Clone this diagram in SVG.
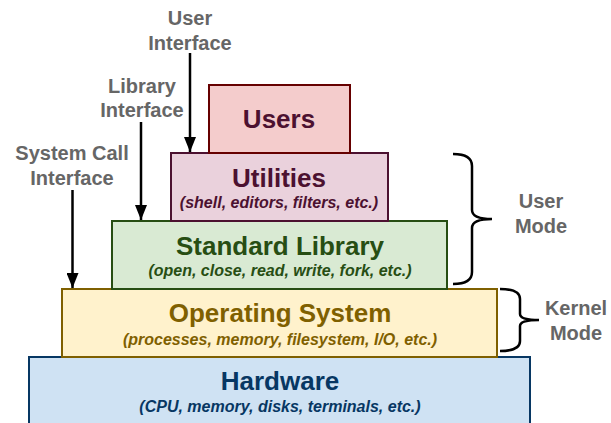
<svg xmlns="http://www.w3.org/2000/svg" width="611" height="423" viewBox="0 0 611 423">
<defs>
<marker id="ah" markerWidth="16" markerHeight="12" refX="15" refY="6" orient="auto" markerUnits="userSpaceOnUse" viewBox="0 0 16 12">
<path d="M0,0 L15,6 L0,12 Z" fill="#000"/>
</marker>
<style>
text{font-family:"Liberation Sans",Arial,sans-serif;font-weight:bold;text-anchor:middle}
.lbl{fill:#666666;font-size:20px}
.t{font-size:26px}
.s{font-size:16px;font-style:italic}
.box{stroke-width:2}
.arrow{stroke:#000;stroke-width:2.5;fill:none}
.brace{stroke:#000;stroke-width:2.5;fill:none}
</style>
</defs>
<rect width="611" height="423" fill="#ffffff"/>

<g id="hardware">
<rect class="box" x="29" y="357" width="501" height="80" fill="#cfe2f3" stroke="#073763"/>
<text class="t" x="280" y="390" fill="#073763">Hardware</text>
<text class="s" x="280" y="412" fill="#073763">(CPU, memory, disks, terminals, etc.)</text>
</g>

<g id="os">
<rect class="box" x="62" y="289" width="435" height="68" fill="#fff2cc" stroke="#7f6000"/>
<text class="t" x="280" y="322" fill="#7f6000">Operating System</text>
<text class="s" x="280" y="345" fill="#7f6000">(processes, memory, filesystem, I/O, etc.)</text>
</g>

<g id="stdlib">
<rect class="box" x="112" y="221" width="335" height="68" fill="#d9ead3" stroke="#274e13"/>
<text class="t" x="280" y="255" fill="#274e13">Standard Library</text>
<text class="s" x="280" y="276" fill="#274e13">(open, close, read, write, fork, etc.)</text>
</g>

<g id="utilities">
<rect class="box" x="171" y="153" width="217" height="68" fill="#ead1dc" stroke="#4c1130"/>
<text class="t" x="279" y="187" fill="#4c1130">Utilities</text>
<text class="s" x="279" y="208" fill="#4c1130">(shell, editors, filters, etc.)</text>
</g>

<g id="users">
<rect class="box" x="209" y="85" width="141" height="68" fill="#f4cccc" stroke="#660000"/>
<text class="t" x="279" y="128" fill="#4c1130">Users</text>
</g>

<g id="label-user-interface">
<text class="lbl" x="190" y="25">User</text>
<text class="lbl" x="190" y="50">Interface</text>
</g>
<g id="label-library-interface">
<text class="lbl" x="142" y="93">Library</text>
<text class="lbl" x="142" y="117">Interface</text>
</g>
<g id="label-syscall-interface">
<text class="lbl" x="72" y="160">System Call</text>
<text class="lbl" x="72" y="185">Interface</text>
</g>
<g id="label-user-mode">
<text class="lbl" x="541" y="208">User</text>
<text class="lbl" x="541" y="233">Mode</text>
</g>
<g id="label-kernel-mode">
<text class="lbl" x="576" y="315">Kernel</text>
<text class="lbl" x="576" y="340">Mode</text>
</g>

<g id="connectors">
<line class="arrow" x1="190" y1="53" x2="190" y2="152" marker-end="url(#ah)"/>
<line class="arrow" x1="141" y1="122" x2="141" y2="220" marker-end="url(#ah)"/>
<line class="arrow" x1="72.5" y1="190" x2="72.5" y2="288" marker-end="url(#ah)"/>
<path class="brace" d="M453,154 Q472,154 472,166 L472,210 Q472,219 492,219 Q472,219 472,228 L472,272 Q472,284 453,284"/>
<path class="brace" d="M500,289 Q520,289 520,299 L520,314 Q520,320 539,320 Q520,320 520,326 L520,341 Q520,351 500,351"/>
</g>
</svg>
